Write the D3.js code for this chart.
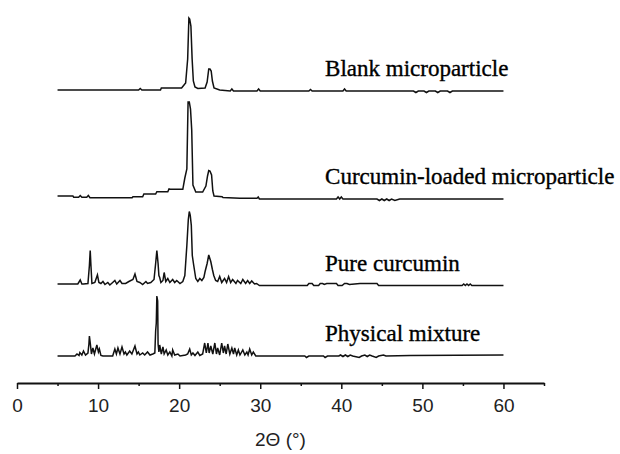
<!DOCTYPE html>
<html>
<head>
<meta charset="utf-8">
<script src="https://cdn.jsdelivr.net/npm/d3@7"></script>
<style>
  body { margin: 0; background: #fff; }
  svg { display: block; }
</style>
</head>
<body>
<div id="chart"></div>
<script>
// XRD patterns: [2theta (deg), intensity above the trace baseline (a.u.)]
var blankPattern = [[5,1],[15,1],[15.2,2.5],[15.4,1],[17.7,1],[17.8,3],[20.3,3],[20.5,5],[20.8,8],[21.05,32],[21.2,73],[21.3,72],[21.45,65],[21.6,32],
  [21.75,10],[21.95,4],[22.3,2.5],[23.2,3],[23.45,9],[23.65,22],[23.8,22],[23.95,20],[24.1,10],[24.3,3],[25,1],[26.3,0],[26.5,2],[26.7,0],
  [29.6,0],[29.8,2],[30,0],[36,0],[36.2,1.5],[36.4,0],[40.2,0],[40.4,2],[40.6,0],[48.9,0],[49.2,-1.5],[49.5,0],[50.2,0],[50.5,-1.5],[50.8,0],
  [51.6,0],[51.9,-1.5],[52.2,0],[53.1,0],[53.4,-1.5],[53.7,0],[60,0]];

var loadedPattern = [[5,3],[6.9,3],[7,1.7],[7.6,1.7],[7.8,3.5],[8,1.7],[8.6,1.7],[8.8,3.5],[9,1.3],[14.2,1.3],[14.3,2.3],[15.5,2.3],[15.65,5],
  [17.1,5],[17.25,7.3],[18.6,7.3],[18.75,10],[18.9,9.7],[20.45,9.7],[20.7,21],[20.95,30],[21.1,97],[21.25,97],[21.4,90],[21.55,69],[21.7,14],
  [22.05,7],[22.9,7],[23.3,13],[23.5,23],[23.65,28.5],[23.8,28],[24,24],[24.15,8],[24.3,3],[25.3,2.3],[25.4,1.5],[27.5,0.7],[29.6,0.7],
  [29.75,2],[29.9,0],[39.4,0],[39.6,2],[39.8,0],[40,2],[40.2,0],[44.4,0],[44.7,-1.5],[45,0],[45.3,-1.5],[45.6,0],[45.9,-1.5],[46.2,0],
  [46.6,-1.5],[47.2,0],[60,0]];

var purePattern = [[5,1.5],[7.5,1.5],[7.8,5.5],[8,1.5],[8.2,1.5],[8.75,2],[8.93,20],[9.03,35],[9.12,20],[9.24,2],[9.6,3],[9.92,10.5],[10.1,3],
  [10.35,2],[10.6,4],[10.85,1],[11.2,3],[11.45,0.5],[11.8,3],[12.07,5],[12.3,1.5],[12.7,5],[12.95,2],[13.4,2],[13.8,4],[14.3,6],[14.55,11.5],
  [14.8,4],[15.15,3],[15.5,1],[15.9,4],[16.1,2],[16.5,3],[16.9,6],[17.1,22],[17.25,35],[17.4,22],[17.5,10],[17.6,8],[17.75,3],[18,5],[18.15,13],
  [18.35,4],[18.6,7],[18.85,3],[19.2,6],[19.45,3],[19.7,5],[20.1,2],[20.45,4],[20.7,10],[20.95,40],[21.13,66],[21.25,74],[21.37,70],[21.5,60],
  [21.62,30],[21.8,20],[22.05,7],[22.3,4],[22.55,7],[22.8,5],[23.05,8],[23.2,14],[23.45,22],[23.65,30.5],[23.9,24],[24.1,16],[24.27,10],
  [24.5,5],[24.75,4],[25,9],[25.25,3],[25.6,7],[25.85,3],[26.1,9],[26.35,3],[26.6,6],[27,2],[27.2,5],[27.6,2],[27.85,6],[28.2,2],[28.45,5],
  [28.7,2],[28.95,4.5],[29.3,1.5],[29.55,2],[29.9,0],[35.8,0],[36,2],[36.4,2],[36.6,0],[37.2,0],[37.4,2],[37.7,2],[37.9,1],[38.2,2],[38.5,2],
  [39.4,2],[39.6,0],[40.1,0],[40.4,2],[40.7,2],[41,1],[42.3,2],[42.5,2],[44.4,2],[44.6,0],[54.9,0],[55.1,1.5],[55.3,0],[55.5,1.5],[55.7,0],
  [55.9,1.5],[56.1,0],[56.4,0],[60,0]];

var mixturePattern = [[5,0],[7.15,0],[7.4,2],[7.65,0.5],[7.75,3.5],[8,1],[8.2,5],[8.45,1],[8.75,3],[8.87,12],[8.93,20],[9.05,12],[9.18,2],
  [9.36,8],[9.55,2],[9.85,11],[10.04,4],[10.16,7],[10.35,0.5],[10.6,0],[11.8,0],[12.07,7],[12.26,2],[12.45,8],[12.7,2],[12.95,9],[13.2,2],
  [13.37,4],[13.55,1],[13.9,5],[14.17,2],[14.55,10],[14.8,2],[14.97,4],[15.15,1],[15.5,3],[15.75,1],[16.1,4],[16.4,1],[16.75,2],[17,3],
  [17.1,25],[17.18,33],[17.25,60],[17.35,55],[17.4,12],[17.5,4],[17.6,11],[17.8,2],[18,9],[18.15,2],[18.4,6],[18.6,1],[18.85,4],[19.1,0],
  [19.2,6],[19.45,1],[19.85,2],[20.1,0],[20.8,1],[21.05,2],[21.3,7],[21.5,1],[21.7,3],[21.95,0.5],[22.3,4],[22.55,0.5],[22.9,2],[23.15,13],
  [23.35,3],[23.55,13],[23.7,3],[23.9,10],[24.15,2],[24.4,13],[24.6,2],[24.75,8],[25,1],[25.25,13],[25.45,3],[25.6,10],[25.8,2],[26,12],
  [26.25,2],[26.5,8],[26.7,2],[26.85,8],[27.1,1],[27.3,6],[27.5,1],[27.85,6],[28.1,1],[28.35,4],[28.5,1],[28.7,7],[28.95,1],[29.15,4],
  [29.45,0],[35.5,0],[35.7,-1.5],[36,0],[37.8,0],[38,-1.5],[38.3,0],[39.7,0],[39.9,1],[40.2,-0.5],[40.5,1],[40.8,-0.5],[41.1,1],[41.4,0],
  [42.2,-1.5],[42.5,0],[42.9,1],[43.2,-0.5],[43.5,1],[43.8,0],[44.3,-1.5],[44.6,0],[45.2,1],[45.5,0],[48.5,0.5],[60,1]];

var traceNames = ["Blank microparticle", "Curcumin-loaded microparticle", "Pure curcumin", "Physical mixture"];
var traceOffsets = [292, 184, 97.5, 27];
var traceData = [blankPattern, loadedPattern, purePattern, mixturePattern];

var xMajorTicks = [0, 10, 20, 30, 40, 50, 60];
var xMinorTicks = [5, 15, 25, 35, 45, 55, 65];

var width = 620, height = 454;
var margin = { left: 17, right: 76, bottom: 71, top: 0 };

var svg = d3.select("#chart").append("svg")
    .attr("width", width)
    .attr("height", height);

var x = d3.scaleLinear()
    .domain([0, 65])
    .range([margin.left, width - margin.right]);

var y = d3.scaleLinear()
    .domain([0, height - margin.bottom])
    .range([height - margin.bottom, 0]);

var line = d3.line()
    .x(function (d) { return x(d[0]); })
    .y(function (d) { return d[1]; });

traceData.forEach(function (pattern, i) {
    var pts = pattern.map(function (d) { return [d[0], y(traceOffsets[i] + d[1])]; });
    svg.append("path")
        .attr("d", line(pts))
        .attr("fill", "none")
        .attr("stroke", "#111")
        .attr("stroke-width", 1.5)
        .attr("stroke-linejoin", "miter");

    // label sits just above the right part of the trace
    svg.append("text")
        .attr("x", x(38))
        .attr("y", y(traceOffsets[i]) - 15)
        .text(traceNames[i])
        .style("font-family", "'Liberation Serif', 'Times New Roman', serif")
        .style("font-size", "23px")
        .style("fill", "#000")
        .style("stroke", "#000")
        .style("stroke-width", 0.35);
});

// x axis, major ticks
var axisY = y(0);
var xAxis = svg.append("g")
    .attr("transform", "translate(0," + axisY + ")")
    .call(d3.axisBottom(x).tickValues(xMajorTicks).tickSize(6).tickSizeOuter(0).tickPadding(10));

xAxis.select(".domain").attr("stroke", "#111").attr("stroke-width", 2);
xAxis.selectAll(".tick line").attr("stroke", "#111").attr("stroke-width", 1.5);
xAxis.selectAll(".tick text")
    .style("font-family", "'Liberation Sans', Arial, sans-serif")
    .style("font-size", "19px")
    .style("fill", "#222");

// minor ticks
var minor = svg.append("g")
    .attr("transform", "translate(0," + axisY + ")")
    .call(d3.axisBottom(x).tickValues(xMinorTicks).tickSize(3).tickSizeOuter(0).tickFormat(""));
minor.select(".domain").remove();
minor.selectAll(".tick line").attr("stroke", "#111").attr("stroke-width", 1.5);

svg.append("text")
    .attr("x", x(32.5))
    .attr("y", axisY + 63)
    .attr("text-anchor", "middle")
    .text("2\u0398 (\u00B0)")
    .style("font-family", "'Liberation Sans', Arial, sans-serif")
    .style("font-size", "19px")
    .style("fill", "#222");
</script>
</body>
</html>
